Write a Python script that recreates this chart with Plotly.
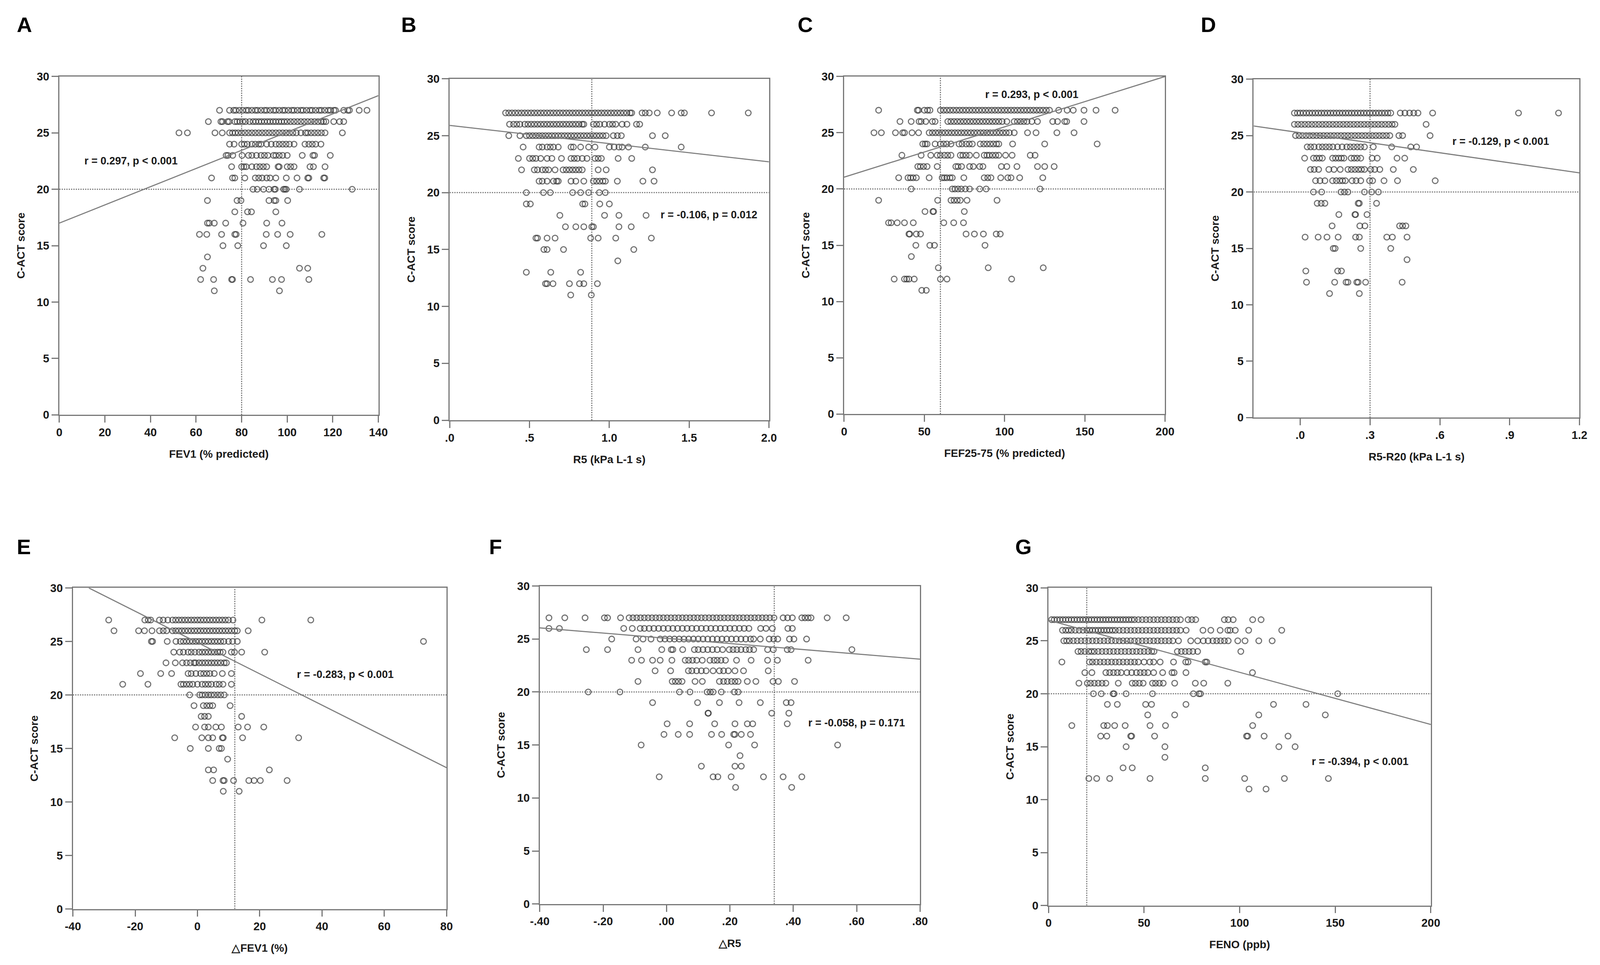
import plotly.graph_objects as go

# C-ACT score vs lung function measures, one dict per panel: score -> x values
score_ticks = [0, 5, 10, 15, 20, 25, 30]

fev1_rows = {
    27: [70.3, 74.7, 76.5, 77.5, 79, 80.5, 82, 83, 84.5, 86, 87, 88.5, 90, 91, 92.5, 94, 95, 96.5, 98, 99,
         100.5, 102, 103, 104.5, 106, 107, 108.5, 110, 111, 112.5, 114, 115, 116.5, 118, 119, 120.5, 121.2,
         124.8, 126.6, 127.3, 131.6, 135],
    26: [65.4, 70.9, 71.6, 73.8, 74.5, 77, 78, 79.2, 80.5, 81.7, 83.5, 85, 86.2, 87.5, 88.7, 90, 91.3, 92.5,
         93.8, 95, 96.3, 97.5, 98.7, 100, 101.5, 103, 104.5, 106, 107.5, 109, 110.5, 112, 113.5, 115, 116, 117,
         120.4, 123, 124.8],
    25: [52.5, 56.2, 68.3, 71.5, 74.7, 76, 77.2, 78.5, 80, 81.5, 83, 84.5, 86, 87.5, 89, 90.5, 92, 93.5, 95,
         96.5, 98, 99.5, 101, 102.5, 104, 106, 108, 109, 110.5, 112, 113.5, 115, 116.6, 124.2],
    24: [74.7, 76.7, 80, 81.2, 82.5, 84.5, 86, 87.5, 88.5, 91, 93, 95, 96.5, 98, 99.5, 101, 103, 107.8, 109.5,
         111, 112.5, 114.8],
    23: [73.2, 74, 76.1, 80.2, 83, 84.5, 86.5, 88.5, 90, 91.5, 94, 95, 96.5, 98, 100, 106.6, 111.3, 112, 118.9],
    22: [75.6, 80, 81, 82, 84.5, 86.5, 88, 89.5, 91, 96, 96.5, 100, 101.5, 103, 110, 111.5, 116.6],
    21: [66.8, 76, 77, 81.4, 86, 87.5, 89, 91, 92.5, 95, 99.6, 104.3, 109, 109.5, 116, 116.5],
    20: [85, 86.8, 89.6, 92, 94.3, 94.8, 98.4, 99, 99.6, 105.4, 128.5],
    19: [65, 78, 79.7, 92, 94.3, 95, 100.2],
    18: [77, 82.6, 84.3, 95],
    17: [65, 65.8, 68, 73, 80.6, 91, 97.7],
    16: [61.5, 64.7, 71.2, 77, 77.6, 90.8, 95.8, 101.3, 115.2],
    15: [71.8, 78.3, 89.6, 99.6],
    14: [65],
    13: [63, 105.4, 109],
    12: [62, 67.7, 75.6, 76, 83.9, 93.5, 97.5, 109.5],
    11: [68, 96.6],
}

r5_rows = {
    27: [0.35, 0.37, 0.39, 0.41, 0.43, 0.45, 0.47, 0.49, 0.51, 0.53, 0.55, 0.57, 0.59, 0.61, 0.63, 0.65, 0.67,
         0.69, 0.71, 0.73, 0.75, 0.77, 0.79, 0.81, 0.83, 0.85, 0.87, 0.89, 0.91, 0.93, 0.95, 0.97, 0.99, 1.01,
         1.03, 1.05, 1.07, 1.09, 1.11, 1.13, 1.14, 1.205, 1.225, 1.25, 1.30, 1.39, 1.45, 1.47, 1.64, 1.87],
    26: [0.375, 0.40, 0.42, 0.44, 0.47, 0.49, 0.51, 0.53, 0.55, 0.57, 0.59, 0.61, 0.63, 0.65, 0.67, 0.69, 0.71,
         0.73, 0.75, 0.77, 0.79, 0.81, 0.83, 0.84, 0.90, 0.92, 0.94, 0.97, 1.0, 1.02, 1.04, 1.08, 1.11, 1.17, 1.19],
    25: [0.37, 0.44, 0.48, 0.50, 0.52, 0.54, 0.56, 0.58, 0.60, 0.62, 0.64, 0.66, 0.68, 0.70, 0.72, 0.74, 0.76,
         0.78, 0.80, 0.82, 0.84, 0.86, 0.88, 0.90, 0.92, 0.94, 0.96, 0.98, 1.025, 1.05, 1.075, 1.27, 1.35],
    24: [0.46, 0.56, 0.58, 0.61, 0.63, 0.65, 0.68, 0.76, 0.775, 0.82, 0.87, 0.91, 1.0, 1.03, 1.06, 1.08, 1.12,
         1.225, 1.45],
    23: [0.43, 0.50, 0.52, 0.54, 0.57, 0.61, 0.64, 0.70, 0.76, 0.78, 0.80, 0.83, 0.86, 0.91, 0.93, 0.95, 1.055, 1.14],
    22: [0.45, 0.53, 0.55, 0.58, 0.60, 0.62, 0.66, 0.71, 0.73, 0.75, 0.77, 0.79, 0.81, 0.83, 0.93, 0.98, 1.27],
    21: [0.56, 0.58, 0.61, 0.65, 0.67, 0.68, 0.76, 0.79, 0.84, 0.90, 0.92, 0.94, 0.96, 0.975, 1.05, 1.21, 1.28],
    20: [0.48, 0.587, 0.63, 0.77, 0.82, 0.87, 0.937, 0.975],
    19: [0.48, 0.505, 0.833, 0.847, 0.94, 1.0],
    18: [0.69, 0.97, 1.06, 1.23],
    17: [0.725, 0.79, 0.84, 0.89, 0.90, 1.06, 1.137],
    16: [0.54, 0.55, 0.61, 0.66, 0.883, 0.93, 1.04, 1.263],
    15: [0.59, 0.61, 0.713, 1.153],
    14: [1.053],
    13: [0.48, 0.633, 0.82],
    12: [0.60, 0.61, 0.647, 0.75, 0.813, 0.84, 0.925],
    11: [0.758, 0.887],
}

fef_rows = {
    27: [21.5, 45.6, 46.4, 50, 52, 53.5, 60, 62, 64, 66, 68, 70, 72, 74, 76, 78, 80, 82, 84, 86, 88, 90, 92, 94,
         96, 98, 100, 102, 104, 106, 108, 110, 112, 114, 116, 118, 120, 122, 124, 126, 128, 133.7, 139, 142.8,
         149.5, 157, 168.9],
    26: [34.8, 41.8, 46.7, 48, 50.9, 55, 56.7, 64.6, 66.5, 68.5, 70.5, 72.5, 74.5, 76.5, 78.5, 80.5, 82.5, 84.5,
         86.5, 88.5, 90.5, 92.5, 94.5, 96.5, 98.5, 101.4, 106, 108, 110, 112, 114, 117, 120.5, 130, 133, 137.5,
         138.7, 149.5],
    25: [18.6, 23.2, 32, 36.5, 37.6, 42.3, 46.4, 53, 55, 57, 59, 61, 63, 65, 67, 69, 71, 73, 75, 77, 79, 81, 83,
         85, 87, 89, 91, 93, 95, 97, 99, 101, 103, 106, 114.3, 119.6, 132.6, 143.3],
    24: [49, 50.5, 51.7, 56.7, 60, 62, 64, 66.6, 71.6, 73.5, 76, 78, 79.9, 84.8, 87, 89, 91, 93, 95, 96.4, 105,
         125, 157.7],
    23: [36, 48, 54, 58, 60, 62.5, 64.5, 66.6, 72.4, 74, 76, 78.2, 82.4, 87.3, 89, 90.5, 92.5, 94.5, 96.4, 100.6,
         104.7, 116, 119],
    22: [45.9, 47.5, 49.5, 51.7, 58, 69.6, 71, 73.2, 78.2, 80.5, 84.5, 86.5, 98, 101.4, 107.7, 120.5, 125, 130.9],
    21: [34, 39.8, 41.4, 43, 45, 53, 61.1, 62.5, 64, 66, 67.4, 74.6, 87.3, 89.5, 91.5, 97.6, 102, 104, 109.4, 123.8],
    20: [41.8, 67.4, 69, 71, 73, 75.5, 78.2, 84.5, 88.5, 122.1],
    19: [21.5, 58.3, 66.6, 68.5, 70.5, 72.4, 76.6, 95.3],
    18: [50.4, 55.3, 55.8, 74.9],
    17: [27.7, 29.3, 33.1, 37.6, 43.1, 62.1, 68.3, 74.4],
    16: [40.4, 40.9, 45, 47.6, 76, 81.2, 86.8, 94.8, 97.3],
    15: [44.7, 53.4, 56.3, 87.8],
    14: [41.9],
    13: [58.7, 89.8, 124.1],
    12: [31.2, 37.6, 39, 40.4, 43.7, 60, 64.1, 104.4],
    11: [48.4, 51.2],
}

r5r20_rows = {
    27: [-0.025, -0.012, 0.0, 0.013, 0.026, 0.039, 0.052, 0.065, 0.078, 0.091, 0.104, 0.117, 0.13, 0.143, 0.156,
         0.169, 0.182, 0.195, 0.208, 0.221, 0.234, 0.247, 0.26, 0.273, 0.286, 0.299, 0.312, 0.325, 0.338, 0.351,
         0.364, 0.377, 0.389, 0.43, 0.45, 0.47, 0.488, 0.506, 0.569, 0.938, 1.11],
    26: [-0.025, -0.01, 0.005, 0.02, 0.035, 0.05, 0.065, 0.08, 0.095, 0.11, 0.125, 0.14, 0.155, 0.17, 0.185, 0.2,
         0.215, 0.23, 0.245, 0.26, 0.275, 0.29, 0.305, 0.32, 0.335, 0.35, 0.365, 0.38, 0.395, 0.407, 0.541],
    25: [-0.02, -0.005, 0.01, 0.025, 0.04, 0.055, 0.07, 0.085, 0.1, 0.115, 0.13, 0.145, 0.16, 0.175, 0.19, 0.205,
         0.22, 0.235, 0.25, 0.265, 0.28, 0.295, 0.31, 0.325, 0.34, 0.355, 0.37, 0.385, 0.424, 0.44, 0.558],
    24: [0.03, 0.045, 0.06, 0.08, 0.095, 0.11, 0.125, 0.14, 0.16, 0.18, 0.2, 0.215, 0.23, 0.245, 0.26, 0.276,
         0.314, 0.393, 0.475, 0.5],
    23: [0.019, 0.057, 0.07, 0.083, 0.095, 0.139, 0.152, 0.165, 0.177, 0.188, 0.219, 0.232, 0.245, 0.26, 0.309,
         0.331, 0.416, 0.449],
    22: [0.044, 0.06, 0.079, 0.123, 0.145, 0.172, 0.205, 0.22, 0.235, 0.25, 0.263, 0.276, 0.303, 0.32, 0.342,
         0.4, 0.486],
    21: [0.066, 0.085, 0.106, 0.139, 0.155, 0.17, 0.182, 0.194, 0.223, 0.24, 0.26, 0.298, 0.311, 0.36, 0.418, 0.58],
    20: [0.057, 0.092, 0.175, 0.19, 0.205, 0.276, 0.307, 0.336],
    19: [0.073, 0.09, 0.106, 0.249, 0.254, 0.328],
    18: [0.166, 0.235, 0.238, 0.287],
    17: [0.137, 0.256, 0.278, 0.427, 0.44, 0.454],
    16: [0.021, 0.077, 0.115, 0.163, 0.238, 0.254, 0.372, 0.396, 0.459],
    15: [0.142, 0.15, 0.26, 0.389],
    14: [0.459],
    13: [0.024, 0.161, 0.177],
    12: [0.027, 0.148, 0.197, 0.205, 0.243, 0.249, 0.281, 0.438],
    11: [0.126, 0.254],
}

dfev1_rows = {
    27: [-28.5, -16.9, -15.8, -15, -12.2, -11, -9.5, -8, -7, -6, -5, -4, -3, -2, -1, 0, 1, 2, 3, 4, 5, 6, 7, 8,
         9, 10, 11.4, 20.7, 36.4],
    26: [-26.8, -18.9, -17, -14.6, -12.2, -11, -9.9, -8, -7, -6, -5, -4, -3, -2, -1, 0, 1, 2, 3, 4, 5, 6, 7, 8,
         9, 10, 11, 12, 12.8, 16.3],
    25: [-14.8, -14.4, -9.7, -6.9, -5.5, -4.5, -3.5, -2.5, -1.5, -0.5, 0.5, 1.5, 2.5, 3.5, 4.5, 5.5, 6.5, 7.5,
         8.5, 10, 11.3, 12.8, 72.6],
    24: [-7.6, -5.7, -4.5, -3, -2, -0.8, 0.5, 1.5, 2.5, 3.5, 4.5, 5.5, 6.5, 7.3, 8.2, 10.9, 11.9, 14.2, 21.6],
    23: [-10.1, -7.1, -4.8, -3.5, -2.3, -1.1, -0.6, 0.5, 1.5, 2.5, 3.5, 4.5, 5.5, 6.5, 7.5, 8.6, 9.3],
    22: [-18.3, -11.8, -8.3, -3, -2, -0.5, 1, 2, 3, 4, 5.4, 8, 10.9],
    21: [-24, -15.9, -5.3, -4.5, -3.5, -2.5, -1.5, 0, 1.5, 2.5, 3.5, 4.5, 6, 7, 8.2, 10.9],
    20: [-2.5, 0.7, 1.5, 2.5, 3.5, 4.4, 5.4, 6.5, 7.5, 8.6],
    19: [-1.1, 1.9, 3, 4, 4.9, 10.5],
    18: [1.2, 2.3, 3.5, 14.2],
    17: [-0.6, 2.3, 3.5, 5.9, 7.7, 13.1, 16.1, 21.3],
    16: [-7.3, 1.4, 3.5, 4.9, 8, 8.3, 14.5, 32.5],
    15: [-2.3, 3.5, 7, 7.7],
    14: [9.7],
    13: [3.5, 5.2, 23.1],
    12: [4.9, 8.2, 8.6, 11.6, 16.5, 18.2, 20.2, 28.8],
    11: [8.3, 13.4],
}

dr5_rows = {
    27: [-0.371, -0.321, -0.257, -0.196, -0.186, -0.145, -0.118, -0.106, -0.094, -0.082, -0.07, -0.058, -0.046,
         -0.034, -0.022, -0.01, 0.002, 0.014, 0.026, 0.038, 0.05, 0.062, 0.074, 0.086, 0.098, 0.11, 0.122, 0.134,
         0.146, 0.158, 0.17, 0.182, 0.194, 0.206, 0.218, 0.23, 0.242, 0.254, 0.266, 0.278, 0.29, 0.302, 0.314,
         0.326, 0.339, 0.368, 0.382, 0.397, 0.427, 0.437, 0.447, 0.456, 0.507, 0.567],
    26: [-0.371, -0.338, -0.135, -0.108, -0.083, -0.07, -0.055, -0.04, -0.025, -0.01, 0.005, 0.02, 0.035, 0.05,
         0.065, 0.08, 0.095, 0.11, 0.125, 0.14, 0.155, 0.17, 0.185, 0.2, 0.215, 0.23, 0.245, 0.26, 0.297, 0.314,
         0.334, 0.383, 0.397],
    25: [-0.173, -0.096, -0.074, -0.049, -0.02, -0.005, 0.01, 0.025, 0.04, 0.055, 0.07, 0.085, 0.1, 0.115, 0.13,
         0.145, 0.16, 0.175, 0.19, 0.205, 0.22, 0.235, 0.25, 0.265, 0.275, 0.296, 0.324, 0.338, 0.351, 0.388,
         0.402, 0.442],
    24: [-0.253, -0.186, -0.09, -0.015, 0.015, 0.02, 0.051, 0.088, 0.1, 0.115, 0.13, 0.145, 0.16, 0.177, 0.198,
         0.21, 0.222, 0.235, 0.25, 0.262, 0.275, 0.319, 0.337, 0.381, 0.393, 0.585],
    23: [-0.11, -0.079, -0.044, -0.02, 0.017, 0.059, 0.07, 0.082, 0.095, 0.113, 0.137, 0.15, 0.16, 0.172, 0.186,
         0.221, 0.267, 0.319, 0.35, 0.447],
    22: [-0.036, 0.013, 0.069, 0.08, 0.095, 0.11, 0.125, 0.147, 0.167, 0.18, 0.195, 0.216, 0.243, 0.321],
    21: [-0.09, 0.018, 0.028, 0.038, 0.049, 0.09, 0.113, 0.167, 0.18, 0.192, 0.205, 0.216, 0.226, 0.255, 0.282,
         0.336, 0.353, 0.404],
    20: [-0.247, -0.147, 0.041, 0.074, 0.128, 0.138, 0.147, 0.173, 0.214, 0.226],
    19: [-0.044, 0.098, 0.167, 0.229, 0.296, 0.378, 0.393],
    18: [0.131, 0.132, 0.332, 0.386],
    17: [0.002, 0.073, 0.152, 0.216, 0.255, 0.272, 0.381],
    16: [-0.008, 0.037, 0.073, 0.142, 0.174, 0.212, 0.216, 0.236, 0.265],
    15: [-0.08, 0.196, 0.278, 0.54],
    14: [0.232],
    13: [0.11, 0.216, 0.236],
    12: [-0.023, 0.147, 0.162, 0.204, 0.306, 0.368, 0.427],
    11: [0.218, 0.395],
}

feno_rows = {
    27: [1.6, 3, 4.5, 6, 7.5, 9, 10.5, 12, 13.5, 15, 16.5, 18, 19.5, 21, 22.5, 24, 25.5, 27, 28.5, 30, 31.5, 33,
         34.5, 36, 37.5, 39, 40.5, 42, 43.5, 45, 47, 49, 51, 53, 55, 57, 59, 61, 63, 65, 67, 69, 73, 75, 77, 92,
         94, 96.6, 106.8, 111.2],
    26: [7.3, 9, 10.5, 12, 14, 16, 18, 20, 21.5, 23, 24.5, 26, 27.5, 29, 30.5, 32, 33.5, 35, 37, 39, 41, 43, 45,
         47, 49, 51, 53, 55, 57, 59, 61, 63, 65, 67, 69, 72, 80.8, 84.9, 89.8, 93.8, 95, 97.7, 104.7, 122],
    25: [8, 9.5, 11, 13, 15, 17, 19, 21, 23, 25, 27, 29, 31, 33, 35, 37, 39, 41, 43, 45, 47, 49, 51, 53, 55, 57,
         59, 61, 63, 65, 68, 74.4, 78, 81, 83.5, 86, 88, 90, 92, 94, 99, 102.8, 110, 117],
    24: [15.4, 17, 19, 21, 22.5, 24, 26, 28, 30, 32, 34, 36, 38, 40, 42, 44, 46, 48, 50, 52, 54, 55.2, 67.4, 69.5,
         71.5, 73.5, 75.5, 78, 100.6],
    23: [7, 21.4, 23, 25, 27, 29, 31, 33, 35, 37, 39, 41, 43, 45, 47, 50, 53, 55, 58.4, 65.4, 71.8, 73, 82, 82.8],
    22: [19, 22.7, 30, 32, 34, 36, 38, 41, 43.5, 46, 48, 50, 52, 55, 59.7, 64.6, 65.7, 71.9, 106.7],
    21: [15.9, 20.3, 22, 24, 26, 28, 30, 36.5, 43.8, 45.5, 47.5, 49.5, 54.4, 56, 58, 60, 66, 76.8, 81.2, 93.8],
    20: [23.5, 27.6, 33.8, 34.3, 40.6, 54.4, 75.8, 78.7, 79.5, 151.3],
    19: [30.8, 36, 50.8, 53.9, 71.9, 117.7, 134.7],
    18: [51.9, 66, 110, 144.8],
    17: [12.2, 28.9, 30.8, 34.6, 40.1, 53.1, 61.2, 106.8],
    16: [27.3, 30.5, 43, 43.5, 55.5, 103.6, 104.2, 112.8, 125.3],
    15: [40.6, 60.9, 120.5, 129],
    14: [60.9],
    13: [39, 43.8, 82],
    12: [21.1, 25.2, 32, 53.1, 82, 102.6, 123.4, 146.4],
    11: [104.9, 113.8],
}

# regression line end points and cut-off values
fit_lines = {
    "A": ([0, 140], [17.0, 28.3]),
    "B": ([0, 2.0], [25.9, 22.7]),
    "C": ([0, 200], [21.05, 30.0]),
    "D": ([-0.2, 1.2], [25.85, 21.7]),
    "E": ([-34.9, 80], [30.0, 13.2]),
    "F": ([-0.4, 0.8], [26.05, 23.1]),
    "G": ([0, 200], [26.95, 17.1]),
}
x_cutoffs = {"A": 80, "B": 0.89, "C": 60, "D": 0.3, "E": 12, "F": 0.34, "G": 20}
score_cutoff = 20

stats_text = {
    "A": "r = 0.297, p < 0.001",
    "B": "r = -0.106, p = 0.012",
    "C": "r = 0.293, p < 0.001",
    "D": "r = -0.129, p < 0.001",
    "E": "r = -0.283, p < 0.001",
    "F": "r = -0.058, p = 0.171",
    "G": "r = -0.394, p < 0.001",
}
x_titles = {
    "A": "FEV1 (% predicted)",
    "B": "R5 (kPa L-1 s)",
    "C": "FEF25-75 (% predicted)",
    "D": "R5-R20 (kPa L-1 s)",
    "E": "△FEV1 (%)",
    "F": "△R5",
    "G": "FENO (ppb)",
}
x_tickvals = {
    "A": [0, 20, 40, 60, 80, 100, 120, 140],
    "B": [0, 0.5, 1.0, 1.5, 2.0],
    "C": [0, 50, 100, 150, 200],
    "D": [0, 0.3, 0.6, 0.9, 1.2],
    "E": [-40, -20, 0, 20, 40, 60, 80],
    "F": [-0.4, -0.2, 0, 0.2, 0.4, 0.6, 0.8],
    "G": [0, 50, 100, 150, 200],
}
x_ticktext = {
    "A": ["0", "20", "40", "60", "80", "100", "120", "140"],
    "B": [".0", ".5", "1.0", "1.5", "2.0"],
    "C": ["0", "50", "100", "150", "200"],
    "D": [".0", ".3", ".6", ".9", "1.2"],
    "E": ["-40", "-20", "0", "20", "40", "60", "80"],
    "F": ["-.40", "-.20", ".00", ".20", ".40", ".60", ".80"],
    "G": ["0", "50", "100", "150", "200"],
}
x_ranges = {
    "A": [0, 140], "B": [0, 2], "C": [0, 200], "D": [-0.2, 1.2],
    "E": [-40, 80], "F": [-0.4, 0.8], "G": [0, 200],
}
panel_rows = {
    "A": fev1_rows, "B": r5_rows, "C": fef_rows, "D": r5r20_rows,
    "E": dfev1_rows, "F": dr5_rows, "G": feno_rows,
}

# ---- layout (paper fractions, the figure fills the window) ----
domains_x = {
    "A": [0.0295, 0.2321], "B": [0.2774, 0.4802], "C": [0.5279, 0.7317], "D": [0.7880, 0.9949],
    "E": [0.0381, 0.2754], "F": [0.3346, 0.5761], "G": [0.6577, 0.9005],
}
domains_y = {
    "A": [0.5715, 0.9291], "B": [0.5658, 0.9267], "C": [0.5723, 0.9291], "D": [0.5686, 0.9262],
    "E": [0.0493, 0.3886], "F": [0.0546, 0.3906], "G": [0.0530, 0.3886],
}
stats_pos = {
    "A": (31.4, 22.5), "B": (1.625, 18.05), "C": (117, 28.4), "D": (0.862, 24.5),
    "E": (47.5, 21.9), "F": (0.60, 17.1), "G": (163, 13.6),
}
letter_pos = {
    "A": (0.002, 0.984), "B": (0.246, 0.984), "C": (0.498, 0.984), "D": (0.754, 0.984),
    "E": (0.002, 0.432), "F": (0.302, 0.432), "G": (0.636, 0.432),
}

FONT = "Liberation Sans, Arial, sans-serif"
AX_COL = "#777777"
PT_COL = "rgba(45,45,45,0.68)"

fig = go.Figure()
layout = dict(
    autosize=True, margin=dict(l=0, r=0, t=0, b=0),
    paper_bgcolor="white", plot_bgcolor="white", showlegend=False,
    font=dict(family=FONT, color="#1a1a1a"),
)
shapes, annotations = [], []

for i, key in enumerate("ABCDEFG", start=1):
    rows = panel_rows[key]
    xs, ys = [], []
    for score, vals in rows.items():
        xs.extend(vals)
        ys.extend([score] * len(vals))
    sfx = "" if i == 1 else str(i)
    xref, yref = "x" + sfx, "y" + sfx

    fig.add_trace(go.Scatter(
        x=xs, y=ys, mode="markers", xaxis=xref, yaxis=yref,
        marker=dict(symbol="circle-open", size=14.5, color=PT_COL, line=dict(width=2.8, color=PT_COL)),
        hoverinfo="x+y",
    ))
    fx, fy = fit_lines[key]
    fig.add_trace(go.Scatter(
        x=fx, y=fy, mode="lines", xaxis=xref, yaxis=yref,
        line=dict(color="#7d7d7d", width=2.8), hoverinfo="skip",
    ))

    axis_common = dict(
        showline=True, linecolor=AX_COL, linewidth=2.8, mirror=True,
        ticks="outside", ticklen=17, tickwidth=2.8, tickcolor=AX_COL,
        showgrid=False, zeroline=False,
        tickfont=dict(family=FONT, size=29, color="#1a1a1a", weight="bold"),
    )
    layout["xaxis" + sfx] = dict(
        axis_common, domain=domains_x[key], range=x_ranges[key], anchor=yref,
        tickmode="array", tickvals=x_tickvals[key], ticktext=x_ticktext[key],
        title=dict(text=x_titles[key], standoff=31,
                   font=dict(family=FONT, size=28, color="#1a1a1a", weight="bold")),
    )
    layout["yaxis" + sfx] = dict(
        axis_common, domain=domains_y[key], range=[0, 30], anchor=xref,
        tickmode="array", tickvals=score_ticks,
        title=dict(text="C-ACT score", standoff=23,
                   font=dict(family=FONT, size=28, color="#1a1a1a", weight="bold")),
    )

    # cut-off reference lines
    x0, x1 = x_ranges[key]
    shapes.append(dict(type="line", xref=xref, yref=yref, x0=x0, x1=x1, y0=score_cutoff, y1=score_cutoff,
                       line=dict(color="#6e6e6e", width=2.8, dash="dot")))
    shapes.append(dict(type="line", xref=xref, yref=yref, x0=x_cutoffs[key], x1=x_cutoffs[key], y0=0, y1=30,
                       line=dict(color="#6e6e6e", width=2.8, dash="dot")))

    sx, sy = stats_pos[key]
    annotations.append(dict(x=sx, y=sy, xref=xref, yref=yref, text=stats_text[key], showarrow=False,
                            font=dict(family=FONT, size=27, color="#1a1a1a", weight="bold")))
    lx, ly = letter_pos[key]
    annotations.append(dict(x=lx, y=ly, xref="paper", yref="paper", text="<b>%s</b>" % key, showarrow=False,
                            xanchor="left", yanchor="middle",
                            font=dict(family=FONT, size=54, color="black")))

layout["shapes"] = shapes
layout["annotations"] = annotations
fig.update_layout(**layout)

fig.write_html("out.html")
